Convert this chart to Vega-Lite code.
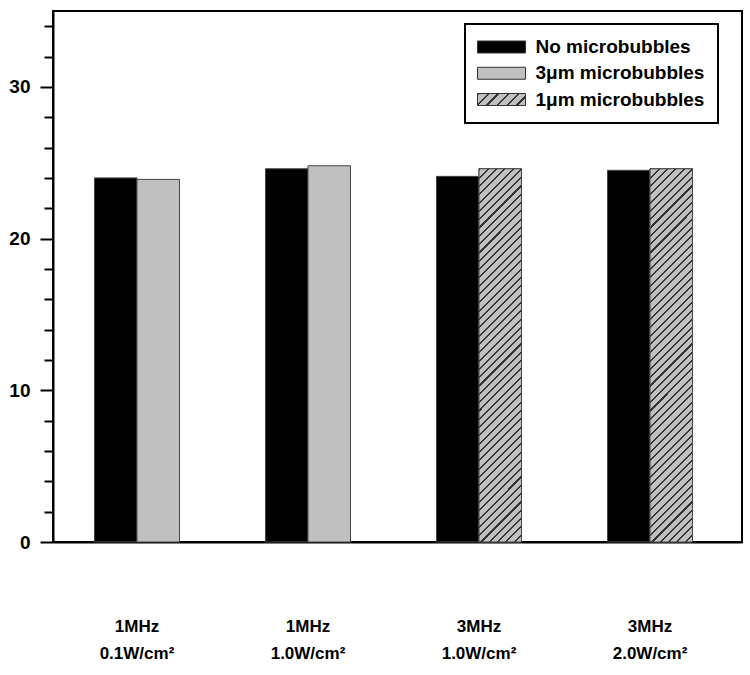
{
  "$schema": "https://vega.github.io/schema/vega-lite/v6.json",
  "width": 689,
  "height": 531,
  "autosize": "none",
  "padding": {"left": 53, "top": 11, "right": 8, "bottom": 133},
  "background": "white",
  "config": {"view": {"stroke": "black", "strokeWidth": 2}, "font": "Liberation Sans"},
  "data": {"values": [
    {"group": "1MHz|0.1W/cm²", "slot": "a", "series": "No microbubbles", "value": 24.0},
    {"group": "1MHz|0.1W/cm²", "slot": "b", "series": "3μm microbubbles", "value": 23.9},
    {"group": "1MHz|1.0W/cm²", "slot": "a", "series": "No microbubbles", "value": 24.6},
    {"group": "1MHz|1.0W/cm²", "slot": "b", "series": "3μm microbubbles", "value": 24.8},
    {"group": "3MHz|1.0W/cm²", "slot": "a", "series": "No microbubbles", "value": 24.1},
    {"group": "3MHz|1.0W/cm²", "slot": "b", "series": "1μm microbubbles", "value": 24.6},
    {"group": "3MHz|2.0W/cm²", "slot": "a", "series": "No microbubbles", "value": 24.5},
    {"group": "3MHz|2.0W/cm²", "slot": "b", "series": "1μm microbubbles", "value": 24.6}
  ]},
  "encoding": {
    "x": {"field": "group", "type": "nominal", "sort": null,
      "scale": {"paddingInner": 0.503, "paddingOuter": 0.266, "align": 0.456},
      "axis": {"title": null, "ticks": false, "labelAngle": 0, "labelExpr": "split(datum.label, '|')",
        "labelPadding": 76, "labelFontSize": 17, "labelFontWeight": "bold", "labelColor": "black",
        "labelLineHeight": 27, "domainColor": "black", "domainWidth": 2}},
    "xOffset": {"field": "slot", "type": "nominal", "scale": {"paddingInner": 0, "paddingOuter": 0}},
    "y": {"field": "value", "type": "quantitative",
      "scale": {"domain": [0, 35], "nice": false, "zero": true},
      "axis": {"title": null, "grid": false, "values": [0,2,4,6,8,10,12,14,16,18,20,22,24,26,28,30,32,34],
        "labelExpr": "datum.value % 10 === 0 ? datum.label : ''",
        "tickSize": {"condition": {"test": "datum.value % 10 === 0", "value": 13}, "value": 9},
        "tickWidth": 2, "tickColor": "black", "domainColor": "black", "domainWidth": 2,
        "labelFontSize": 19, "labelFontWeight": "bold", "labelColor": "black", "labelPadding": 10}}
  },
  "layer": [
    {
      "mark": {"type": "bar", "stroke": "#444", "strokeWidth": 1},
      "encoding": {
        "color": {"field": "series", "type": "nominal",
          "scale": {"domain": ["No microbubbles", "3μm microbubbles", "1μm microbubbles"],
            "range": ["#000000", "#c0c0c0", {"expr": "{gradient: 'linear', x1: 0, y1: 0, x2: 1.1765, y2: 0.2941, stops: [{offset: 0, color: '#333'}, {offset: 0.035, color: '#333'}, {offset: 0.035, color: '#c0c0c0'}, {offset: 0.1667, color: '#c0c0c0'}, {offset: 0.1667, color: '#333'}, {offset: 0.2017, color: '#333'}, {offset: 0.2017, color: '#c0c0c0'}, {offset: 0.3333, color: '#c0c0c0'}, {offset: 0.3333, color: '#333'}, {offset: 0.3683, color: '#333'}, {offset: 0.3683, color: '#c0c0c0'}, {offset: 0.5, color: '#c0c0c0'}, {offset: 0.5, color: '#333'}, {offset: 0.535, color: '#333'}, {offset: 0.535, color: '#c0c0c0'}, {offset: 0.6667, color: '#c0c0c0'}, {offset: 0.6667, color: '#333'}, {offset: 0.7017, color: '#333'}, {offset: 0.7017, color: '#c0c0c0'}, {offset: 0.8333, color: '#c0c0c0'}, {offset: 0.8333, color: '#333'}, {offset: 0.8683, color: '#333'}, {offset: 0.8683, color: '#c0c0c0'}, {offset: 1, color: '#c0c0c0'}]}"}]},
          "legend": {"title": null, "orient": "none", "legendX": 412, "legendY": 13, "direction": "vertical",
            "fillColor": "white", "strokeColor": "black", "padding": 13.5,
            "symbolType": "M-4,-1H4V1H-4Z", "symbolSize": 144, "symbolOffset": 13.5, "symbolStrokeColor": "#333", "symbolStrokeWidth": 1,
            "labelFontSize": 19, "labelFontWeight": "bold", "labelColor": "black", "labelOffset": 24.5, "labelLimit": 400, "rowPadding": 6.25,
            "encode": {
              "legend": {"update": {"strokeWidth": {"value": 2}}}
            }}}
      }
    },
    {
      "transform": [{"filter": "datum.series === '1μm microbubbles'"}],
      "mark": {"type": "bar", "stroke": "#444", "strokeWidth": 1,
        "fill": {"gradient": "linear", "x1": 0, "y1": 0, "x2": 0.1253, "y2": 1.0997, "stops": [
          {"offset": 0, "color": "#333"}, {"offset": 0.005, "color": "#333"}, {"offset": 0.005, "color": "#c0c0c0"}, {"offset": 0.02, "color": "#c0c0c0"},
          {"offset": 0.02, "color": "#333"}, {"offset": 0.025, "color": "#333"}, {"offset": 0.025, "color": "#c0c0c0"}, {"offset": 0.04, "color": "#c0c0c0"},
          {"offset": 0.04, "color": "#333"}, {"offset": 0.045, "color": "#333"}, {"offset": 0.045, "color": "#c0c0c0"}, {"offset": 0.06, "color": "#c0c0c0"},
          {"offset": 0.06, "color": "#333"}, {"offset": 0.065, "color": "#333"}, {"offset": 0.065, "color": "#c0c0c0"}, {"offset": 0.08, "color": "#c0c0c0"},
          {"offset": 0.08, "color": "#333"}, {"offset": 0.085, "color": "#333"}, {"offset": 0.085, "color": "#c0c0c0"}, {"offset": 0.1, "color": "#c0c0c0"},
          {"offset": 0.1, "color": "#333"}, {"offset": 0.105, "color": "#333"}, {"offset": 0.105, "color": "#c0c0c0"}, {"offset": 0.12, "color": "#c0c0c0"},
          {"offset": 0.12, "color": "#333"}, {"offset": 0.125, "color": "#333"}, {"offset": 0.125, "color": "#c0c0c0"}, {"offset": 0.14, "color": "#c0c0c0"},
          {"offset": 0.14, "color": "#333"}, {"offset": 0.145, "color": "#333"}, {"offset": 0.145, "color": "#c0c0c0"}, {"offset": 0.16, "color": "#c0c0c0"},
          {"offset": 0.16, "color": "#333"}, {"offset": 0.165, "color": "#333"}, {"offset": 0.165, "color": "#c0c0c0"}, {"offset": 0.18, "color": "#c0c0c0"},
          {"offset": 0.18, "color": "#333"}, {"offset": 0.185, "color": "#333"}, {"offset": 0.185, "color": "#c0c0c0"}, {"offset": 0.2, "color": "#c0c0c0"},
          {"offset": 0.2, "color": "#333"}, {"offset": 0.205, "color": "#333"}, {"offset": 0.205, "color": "#c0c0c0"}, {"offset": 0.22, "color": "#c0c0c0"},
          {"offset": 0.22, "color": "#333"}, {"offset": 0.225, "color": "#333"}, {"offset": 0.225, "color": "#c0c0c0"}, {"offset": 0.24, "color": "#c0c0c0"},
          {"offset": 0.24, "color": "#333"}, {"offset": 0.245, "color": "#333"}, {"offset": 0.245, "color": "#c0c0c0"}, {"offset": 0.26, "color": "#c0c0c0"},
          {"offset": 0.26, "color": "#333"}, {"offset": 0.265, "color": "#333"}, {"offset": 0.265, "color": "#c0c0c0"}, {"offset": 0.28, "color": "#c0c0c0"},
          {"offset": 0.28, "color": "#333"}, {"offset": 0.285, "color": "#333"}, {"offset": 0.285, "color": "#c0c0c0"}, {"offset": 0.3, "color": "#c0c0c0"},
          {"offset": 0.3, "color": "#333"}, {"offset": 0.305, "color": "#333"}, {"offset": 0.305, "color": "#c0c0c0"}, {"offset": 0.32, "color": "#c0c0c0"},
          {"offset": 0.32, "color": "#333"}, {"offset": 0.325, "color": "#333"}, {"offset": 0.325, "color": "#c0c0c0"}, {"offset": 0.34, "color": "#c0c0c0"},
          {"offset": 0.34, "color": "#333"}, {"offset": 0.345, "color": "#333"}, {"offset": 0.345, "color": "#c0c0c0"}, {"offset": 0.36, "color": "#c0c0c0"},
          {"offset": 0.36, "color": "#333"}, {"offset": 0.365, "color": "#333"}, {"offset": 0.365, "color": "#c0c0c0"}, {"offset": 0.38, "color": "#c0c0c0"},
          {"offset": 0.38, "color": "#333"}, {"offset": 0.385, "color": "#333"}, {"offset": 0.385, "color": "#c0c0c0"}, {"offset": 0.4, "color": "#c0c0c0"},
          {"offset": 0.4, "color": "#333"}, {"offset": 0.405, "color": "#333"}, {"offset": 0.405, "color": "#c0c0c0"}, {"offset": 0.42, "color": "#c0c0c0"},
          {"offset": 0.42, "color": "#333"}, {"offset": 0.425, "color": "#333"}, {"offset": 0.425, "color": "#c0c0c0"}, {"offset": 0.44, "color": "#c0c0c0"},
          {"offset": 0.44, "color": "#333"}, {"offset": 0.445, "color": "#333"}, {"offset": 0.445, "color": "#c0c0c0"}, {"offset": 0.46, "color": "#c0c0c0"},
          {"offset": 0.46, "color": "#333"}, {"offset": 0.465, "color": "#333"}, {"offset": 0.465, "color": "#c0c0c0"}, {"offset": 0.48, "color": "#c0c0c0"},
          {"offset": 0.48, "color": "#333"}, {"offset": 0.485, "color": "#333"}, {"offset": 0.485, "color": "#c0c0c0"}, {"offset": 0.5, "color": "#c0c0c0"},
          {"offset": 0.5, "color": "#333"}, {"offset": 0.505, "color": "#333"}, {"offset": 0.505, "color": "#c0c0c0"}, {"offset": 0.52, "color": "#c0c0c0"},
          {"offset": 0.52, "color": "#333"}, {"offset": 0.525, "color": "#333"}, {"offset": 0.525, "color": "#c0c0c0"}, {"offset": 0.54, "color": "#c0c0c0"},
          {"offset": 0.54, "color": "#333"}, {"offset": 0.545, "color": "#333"}, {"offset": 0.545, "color": "#c0c0c0"}, {"offset": 0.56, "color": "#c0c0c0"},
          {"offset": 0.56, "color": "#333"}, {"offset": 0.565, "color": "#333"}, {"offset": 0.565, "color": "#c0c0c0"}, {"offset": 0.58, "color": "#c0c0c0"},
          {"offset": 0.58, "color": "#333"}, {"offset": 0.585, "color": "#333"}, {"offset": 0.585, "color": "#c0c0c0"}, {"offset": 0.6, "color": "#c0c0c0"},
          {"offset": 0.6, "color": "#333"}, {"offset": 0.605, "color": "#333"}, {"offset": 0.605, "color": "#c0c0c0"}, {"offset": 0.62, "color": "#c0c0c0"},
          {"offset": 0.62, "color": "#333"}, {"offset": 0.625, "color": "#333"}, {"offset": 0.625, "color": "#c0c0c0"}, {"offset": 0.64, "color": "#c0c0c0"},
          {"offset": 0.64, "color": "#333"}, {"offset": 0.645, "color": "#333"}, {"offset": 0.645, "color": "#c0c0c0"}, {"offset": 0.66, "color": "#c0c0c0"},
          {"offset": 0.66, "color": "#333"}, {"offset": 0.665, "color": "#333"}, {"offset": 0.665, "color": "#c0c0c0"}, {"offset": 0.68, "color": "#c0c0c0"},
          {"offset": 0.68, "color": "#333"}, {"offset": 0.685, "color": "#333"}, {"offset": 0.685, "color": "#c0c0c0"}, {"offset": 0.7, "color": "#c0c0c0"},
          {"offset": 0.7, "color": "#333"}, {"offset": 0.705, "color": "#333"}, {"offset": 0.705, "color": "#c0c0c0"}, {"offset": 0.72, "color": "#c0c0c0"},
          {"offset": 0.72, "color": "#333"}, {"offset": 0.725, "color": "#333"}, {"offset": 0.725, "color": "#c0c0c0"}, {"offset": 0.74, "color": "#c0c0c0"},
          {"offset": 0.74, "color": "#333"}, {"offset": 0.745, "color": "#333"}, {"offset": 0.745, "color": "#c0c0c0"}, {"offset": 0.76, "color": "#c0c0c0"},
          {"offset": 0.76, "color": "#333"}, {"offset": 0.765, "color": "#333"}, {"offset": 0.765, "color": "#c0c0c0"}, {"offset": 0.78, "color": "#c0c0c0"},
          {"offset": 0.78, "color": "#333"}, {"offset": 0.785, "color": "#333"}, {"offset": 0.785, "color": "#c0c0c0"}, {"offset": 0.8, "color": "#c0c0c0"},
          {"offset": 0.8, "color": "#333"}, {"offset": 0.805, "color": "#333"}, {"offset": 0.805, "color": "#c0c0c0"}, {"offset": 0.82, "color": "#c0c0c0"},
          {"offset": 0.82, "color": "#333"}, {"offset": 0.825, "color": "#333"}, {"offset": 0.825, "color": "#c0c0c0"}, {"offset": 0.84, "color": "#c0c0c0"},
          {"offset": 0.84, "color": "#333"}, {"offset": 0.845, "color": "#333"}, {"offset": 0.845, "color": "#c0c0c0"}, {"offset": 0.86, "color": "#c0c0c0"},
          {"offset": 0.86, "color": "#333"}, {"offset": 0.865, "color": "#333"}, {"offset": 0.865, "color": "#c0c0c0"}, {"offset": 0.88, "color": "#c0c0c0"},
          {"offset": 0.88, "color": "#333"}, {"offset": 0.885, "color": "#333"}, {"offset": 0.885, "color": "#c0c0c0"}, {"offset": 0.9, "color": "#c0c0c0"},
          {"offset": 0.9, "color": "#333"}, {"offset": 0.905, "color": "#333"}, {"offset": 0.905, "color": "#c0c0c0"}, {"offset": 0.92, "color": "#c0c0c0"},
          {"offset": 0.92, "color": "#333"}, {"offset": 0.925, "color": "#333"}, {"offset": 0.925, "color": "#c0c0c0"}, {"offset": 0.94, "color": "#c0c0c0"},
          {"offset": 0.94, "color": "#333"}, {"offset": 0.945, "color": "#333"}, {"offset": 0.945, "color": "#c0c0c0"}, {"offset": 0.96, "color": "#c0c0c0"},
          {"offset": 0.96, "color": "#333"}, {"offset": 0.965, "color": "#333"}, {"offset": 0.965, "color": "#c0c0c0"}, {"offset": 0.98, "color": "#c0c0c0"},
          {"offset": 0.98, "color": "#333"}, {"offset": 0.985, "color": "#333"}, {"offset": 0.985, "color": "#c0c0c0"}, {"offset": 1, "color": "#c0c0c0"}
        ]}},
      "encoding": {}
    }
  ]
}
